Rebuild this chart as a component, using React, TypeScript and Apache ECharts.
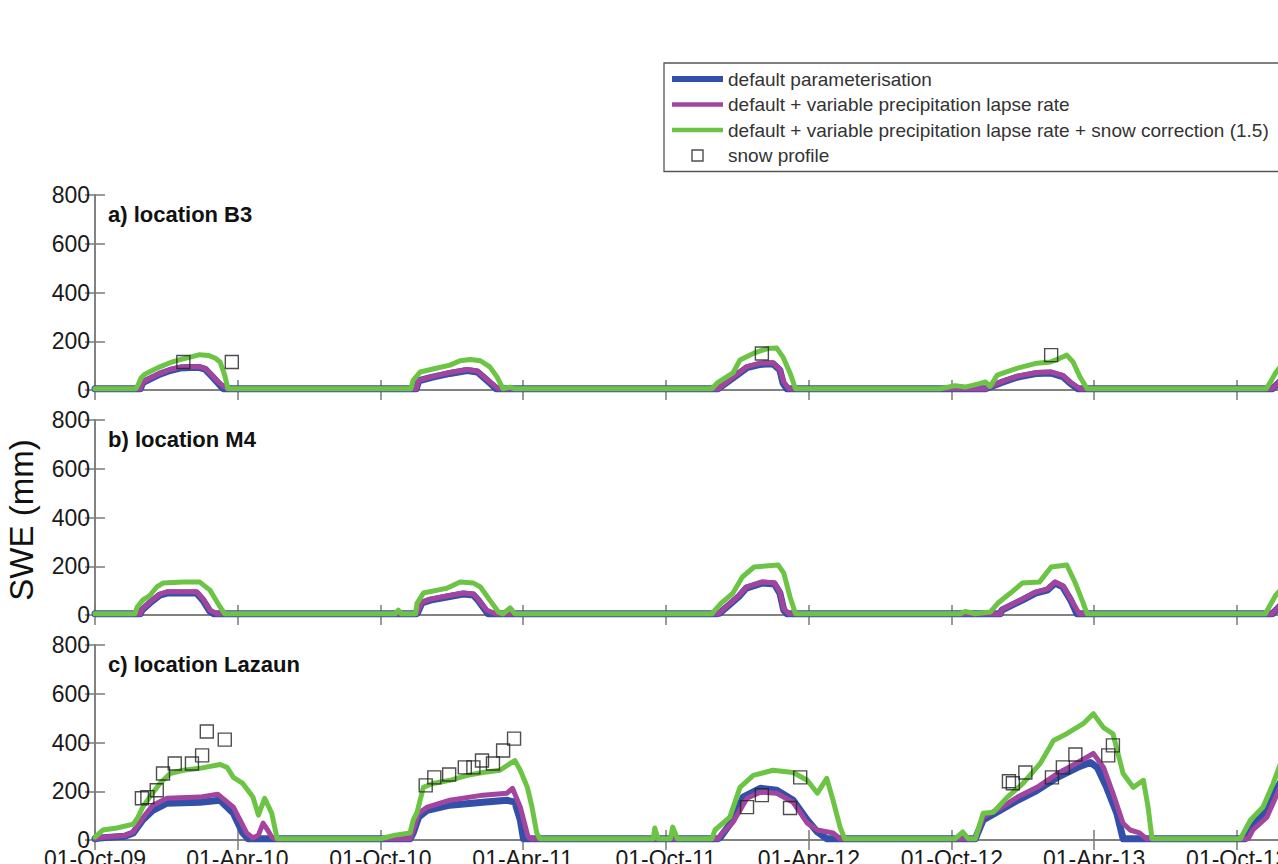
import React, { useEffect, useRef } from "react";
import * as echarts from "echarts";

// x values are days since 01-Oct-2009
const tickDays = [0, 182, 365, 547, 730, 913, 1096, 1278, 1461];
const tickLabels = ["01-Oct-09", "01-Apr-10", "01-Oct-10", "01-Apr-11", "01-Oct-11", "01-Apr-12", "01-Oct-12", "01-Apr-13", "01-Oct-13"];
const yTicks = [0, 200, 400, 600, 800];
const xMaxDay = 1517;

const seriesNames = [
  "default parameterisation",
  "default + variable precipitation lapse rate",
  "default + variable precipitation lapse rate + snow correction (1.5)",
  "snow profile",
];
const panelTitles = ["a) location B3", "b) location M4", "c) location Lazaun"];

// a) location B3
const b3Default = [[0,5],[58,5],[61,30],[70,45],[83,65],[96,80],[109,90],[122,92],[134,92],[141,85],[150,55],[157,30],[164,5],
  [411,5],[414,38],[432,53],[454,68],[476,80],[489,74],[501,41],[513,5],
  [797,5],[816,50],[834,92],[851,105],[867,108],[876,82],[880,29],[885,5],
  [1139,5],[1158,29],[1180,53],[1205,68],[1222,70],[1238,55],[1247,29],[1257,5],
  [1506,5],[1517,38]];
const b3Lapse = [[0,5],[58,5],[61,32],[70,48],[83,68],[96,84],[109,94],[122,96],[134,95],[141,88],[150,60],[157,34],[169,5],
  [411,5],[414,40],[432,56],[454,72],[476,84],[489,78],[501,45],[516,5],
  [797,5],[816,52],[834,96],[851,110],[867,112],[876,86],[881,32],[888,5],
  [1139,5],[1158,32],[1180,57],[1205,72],[1222,74],[1238,60],[1247,33],[1260,5],
  [1506,5],[1517,42]];
const b3Snow = [[0,5],[52,5],[55,20],[59,50],[64,65],[70,75],[83,95],[96,112],[109,125],[122,135],[134,145],[145,142],[154,130],[160,115],[166,60],[170,5],
  [404,5],[407,40],[416,74],[435,88],[454,102],[467,120],[480,125],[493,120],[505,95],[514,55],[522,5],[531,12],[536,5],
  [789,5],[796,29],[806,50],[816,70],[825,123],[842,150],[860,170],[872,172],[880,135],[889,70],[896,5],
  [1081,5],[1100,18],[1113,12],[1130,25],[1139,33],[1145,15],[1154,61],[1164,72],[1180,90],[1205,110],[1222,115],[1234,130],[1243,143],[1251,115],[1260,53],[1269,5],
  [1498,5],[1503,30],[1510,70],[1517,100]];
const b3Profile = [[113,115],[175,115],[853,150],[1223,143]];

// b) location M4
const m4Default = [[0,5],[58,5],[60,20],[70,49],[83,82],[92,90],[130,90],[138,61],[147,15],[152,5],
  [411,5],[413,12],[418,49],[429,61],[450,74],[471,86],[484,82],[490,61],[501,12],[503,5],
  [796,5],[799,8],[823,74],[833,110],[853,131],[869,127],[876,90],[881,20],[885,5],
  [1158,5],[1160,20],[1186,61],[1203,90],[1218,102],[1228,131],[1238,115],[1248,61],[1256,5],
  [1506,5],[1517,40]];
const m4Lapse = [[0,5],[58,5],[60,22],[70,52],[83,86],[92,95],[130,95],[138,66],[147,20],[156,5],
  [411,5],[413,14],[418,52],[429,65],[450,78],[471,90],[484,86],[490,65],[501,20],[512,5],
  [796,5],[799,10],[823,78],[833,114],[853,135],[869,132],[876,95],[881,25],[888,5],
  [1158,5],[1160,22],[1186,65],[1203,94],[1218,106],[1228,135],[1238,120],[1248,66],[1259,5],
  [1506,5],[1517,44]];
const m4Snow = [[0,5],[51,5],[54,33],[61,61],[70,80],[79,115],[87,131],[113,135],[134,135],[147,102],[160,33],[166,5],
  [384,5],[388,20],[392,5],[410,5],[412,49],[420,90],[438,102],[450,110],[467,135],[484,131],[493,115],[505,61],[516,12],[522,5],[531,29],[537,5],
  [789,5],[793,20],[801,49],[816,90],[828,156],[843,197],[874,205],[881,172],[889,74],[896,5],
  [1107,5],[1113,15],[1126,5],[1145,12],[1155,49],[1171,90],[1186,131],[1208,135],[1223,197],[1243,205],[1254,131],[1264,49],[1269,5],
  [1497,5],[1503,40],[1510,80],[1517,105]];

// c) location Lazaun
const lazDefault = [[0,5],[6,8],[38,15],[49,29],[61,82],[74,122],[92,151],[134,155],[160,163],[177,110],[189,29],[196,5],
  [403,5],[407,29],[414,94],[425,122],[454,143],[496,155],[527,163],[537,155],[544,82],[548,5],
  [797,5],[800,12],[816,82],[829,176],[851,212],[872,204],[893,163],[911,82],[924,33],[936,5],
  [1126,5],[1136,82],[1158,122],[1180,163],[1205,204],[1231,257],[1257,298],[1273,318],[1282,298],[1294,216],[1307,110],[1315,5],
  [1471,5],[1478,40],[1494,110],[1517,240]];
const lazLapse = [[0,5],[6,10],[38,18],[49,33],[61,90],[74,143],[92,171],[134,176],[157,188],[177,135],[194,29],[202,8],[209,20],[215,69],[221,40],[226,12],[230,5],
  [403,5],[407,40],[414,110],[425,135],[454,163],[496,184],[527,192],[534,212],[544,135],[554,12],[557,5],
  [797,5],[800,20],[816,73],[834,171],[851,196],[872,192],[893,155],[911,69],[924,41],[944,29],[953,5],
  [1126,5],[1129,29],[1136,94],[1158,131],[1180,176],[1205,216],[1231,273],[1257,318],[1277,355],[1290,298],[1302,192],[1315,69],[1324,41],[1336,29],[1345,5],
  [1475,5],[1481,41],[1499,94],[1517,225]];
const lazSnow = [[0,12],[3,20],[10,41],[28,49],[49,65],[55,94],[61,135],[70,176],[83,232],[96,273],[113,286],[134,294],[160,310],[169,298],[177,257],[189,232],[202,176],[209,102],[217,171],[226,110],[233,5],
  [365,5],[384,20],[403,29],[407,82],[412,114],[420,216],[432,232],[454,245],[476,265],[496,277],[518,286],[531,314],[537,326],[544,286],[553,216],[559,135],[565,29],[569,5],
  [714,5],[716,49],[720,5],[736,5],[739,53],[745,5],
  [789,5],[793,41],[812,94],[825,216],[842,265],[867,286],[893,277],[911,245],[924,192],[936,253],[944,163],[953,53],[959,5],
  [1100,5],[1110,33],[1117,5],[1126,5],[1136,110],[1149,114],[1167,176],[1187,232],[1209,314],[1226,408],[1243,436],[1264,477],[1277,518],[1290,461],[1302,436],[1315,273],[1328,216],[1341,245],[1347,135],[1352,5],
  [1465,5],[1469,29],[1478,82],[1494,135],[1507,232],[1517,320]];
const lazProfile = [[60,171],[67,176],[79,204],[87,273],[102,314],[124,314],[137,347],[143,445],[166,412],
  [423,224],[434,257],[453,269],[473,298],[484,298],[495,326],[509,314],[522,367],[536,416],
  [834,135],[853,184],[889,131],[902,257],
  [1169,241],[1174,233],[1190,277],[1224,257],[1238,298],[1254,351],[1296,347],[1302,388]];

const panels = [
  { lines: [b3Default, b3Lapse, b3Snow], profile: b3Profile },
  { lines: [m4Default, m4Lapse, m4Snow], profile: null as null | number[][] },
  { lines: [lazDefault, lazLapse, lazSnow], profile: lazProfile },
];

const COLORS = ["#3350a8", "#a3449f", "#6cc444"];
const WIDTHS = [7, 5, 5];
const FONT = "Liberation Sans, Arial, sans-serif";
const AXIS_COLOR = "#7a7a7a";
const GRID_TOPS = [195, 420, 645];
const GRID_H = 195;

export default function App() {
  const ref = useRef<HTMLDivElement>(null);
  useEffect(() => {
    if (!ref.current) return;
    const chart = echarts.init(ref.current, undefined, { renderer: "svg" });

    const grids = GRID_TOPS.map((t) => ({
      left: 95, top: t, width: 1186, height: GRID_H, containLabel: false, outerBoundsMode: "none",
    }));
    const xAxis: any[] = [];
    const yAxis: any[] = [];
    const series: any[] = [];
    const axisLine = { show: true, lineStyle: { color: AXIS_COLOR, width: 1.5 } };
    const axisTickX = { show: true, inside: true, length: 10, customValues: tickDays, lineStyle: { color: AXIS_COLOR, width: 1.5 } };
    const axisTickY = { show: true, inside: true, length: 10, customValues: yTicks, lineStyle: { color: AXIS_COLOR, width: 1.5 } };

    panels.forEach((p, i) => {
      xAxis.push({
        type: "value", gridIndex: i, position: "bottom", min: 0, max: xMaxDay,
        axisLine, axisTick: axisTickX, splitLine: { show: false },
        axisLabel: {
          show: i === 2, customValues: tickDays, margin: 7, fontSize: 23, color: "#1a1a1a", fontFamily: FONT,
          formatter: (v: number) => { const k = tickDays.indexOf(v); return k >= 0 ? tickLabels[k] : ""; },
        },
      });
      xAxis.push({
        type: "value", gridIndex: i, position: "top", min: 0, max: xMaxDay,
        axisLine, axisTick: axisTickX, splitLine: { show: false }, axisLabel: { show: false, customValues: tickDays },
      });
      yAxis.push({
        type: "value", gridIndex: i, position: "left", min: 0, max: 800, interval: 200,
        axisLine, axisTick: axisTickY, splitLine: { show: false },
        axisLabel: { show: true, margin: 5, fontSize: 23, color: "#1a1a1a", fontFamily: FONT },
      });
      yAxis.push({
        type: "value", gridIndex: i, position: "right", min: 0, max: 800, interval: 200,
        axisLine, axisTick: axisTickY, splitLine: { show: false }, axisLabel: { show: false },
      });
      p.lines.forEach((d, k) => {
        series.push({
          type: "line", name: seriesNames[k], xAxisIndex: 2 * i, yAxisIndex: 2 * i, data: d,
          symbol: "none", color: COLORS[k],
          lineStyle: { color: COLORS[k], width: WIDTHS[k], join: "round", cap: "round" },
          z: 2 + k,
        });
      });
      if (p.profile) {
        series.push({
          type: "scatter", name: seriesNames[3], xAxisIndex: 2 * i, yAxisIndex: 2 * i, data: p.profile,
          symbol: "rect", symbolSize: 13, z: 6,
          itemStyle: { color: "rgba(0,0,0,0)", borderColor: "#222", borderWidth: 1.4 },
        });
      }
    });

    const titleY = [214, 439, 664];
    const graphic: any[] = panelTitles.map((t, i) => ({
      type: "text", x: 108, y: titleY[i], z: 50,
      style: { text: t, font: `bold 22px ${FONT}`, fill: "#111", textAlign: "left", textVerticalAlign: "middle" },
    }));
    graphic.push({
      type: "text", x: 21, y: 520, rotation: Math.PI / 2, z: 50,
      style: { text: "SWE (mm)", font: `33px ${FONT}`, fill: "#111", textAlign: "center", textVerticalAlign: "middle" },
    });

    chart.setOption({
      animation: false,
      backgroundColor: "#fff",
      grid: grids,
      xAxis,
      yAxis,
      series,
      graphic,
      legend: {
        orient: "vertical", left: 664, top: 63, itemWidth: 51, itemHeight: 11, itemGap: 5.5,
        padding: [6, 60, 6, 8], borderColor: "#555", borderWidth: 1.3, backgroundColor: "#fff",
        selectedMode: false, symbolKeepAspect: true,
        textStyle: { fontSize: 19, color: "#333", fontFamily: FONT, lineHeight: 20 },
        data: [
          { name: seriesNames[0], icon: "path://M0 0H51V6H0Z" },
          { name: seriesNames[1], icon: "path://M0 0H51V4.5H0Z" },
          { name: seriesNames[2], icon: "path://M0 0H51V4.5H0Z" },
          { name: seriesNames[3], icon: "path://M0 0H11V11H0Z", itemStyle: { color: "rgba(0,0,0,0)", borderWidth: 1.4, borderColor: "#222" } },
        ],
      },
    });
    return () => chart.dispose();
  }, []);
  return <div ref={ref} style={{ position: "fixed", left: 0, top: 0, width: 1278, height: 864 }} />;
}
